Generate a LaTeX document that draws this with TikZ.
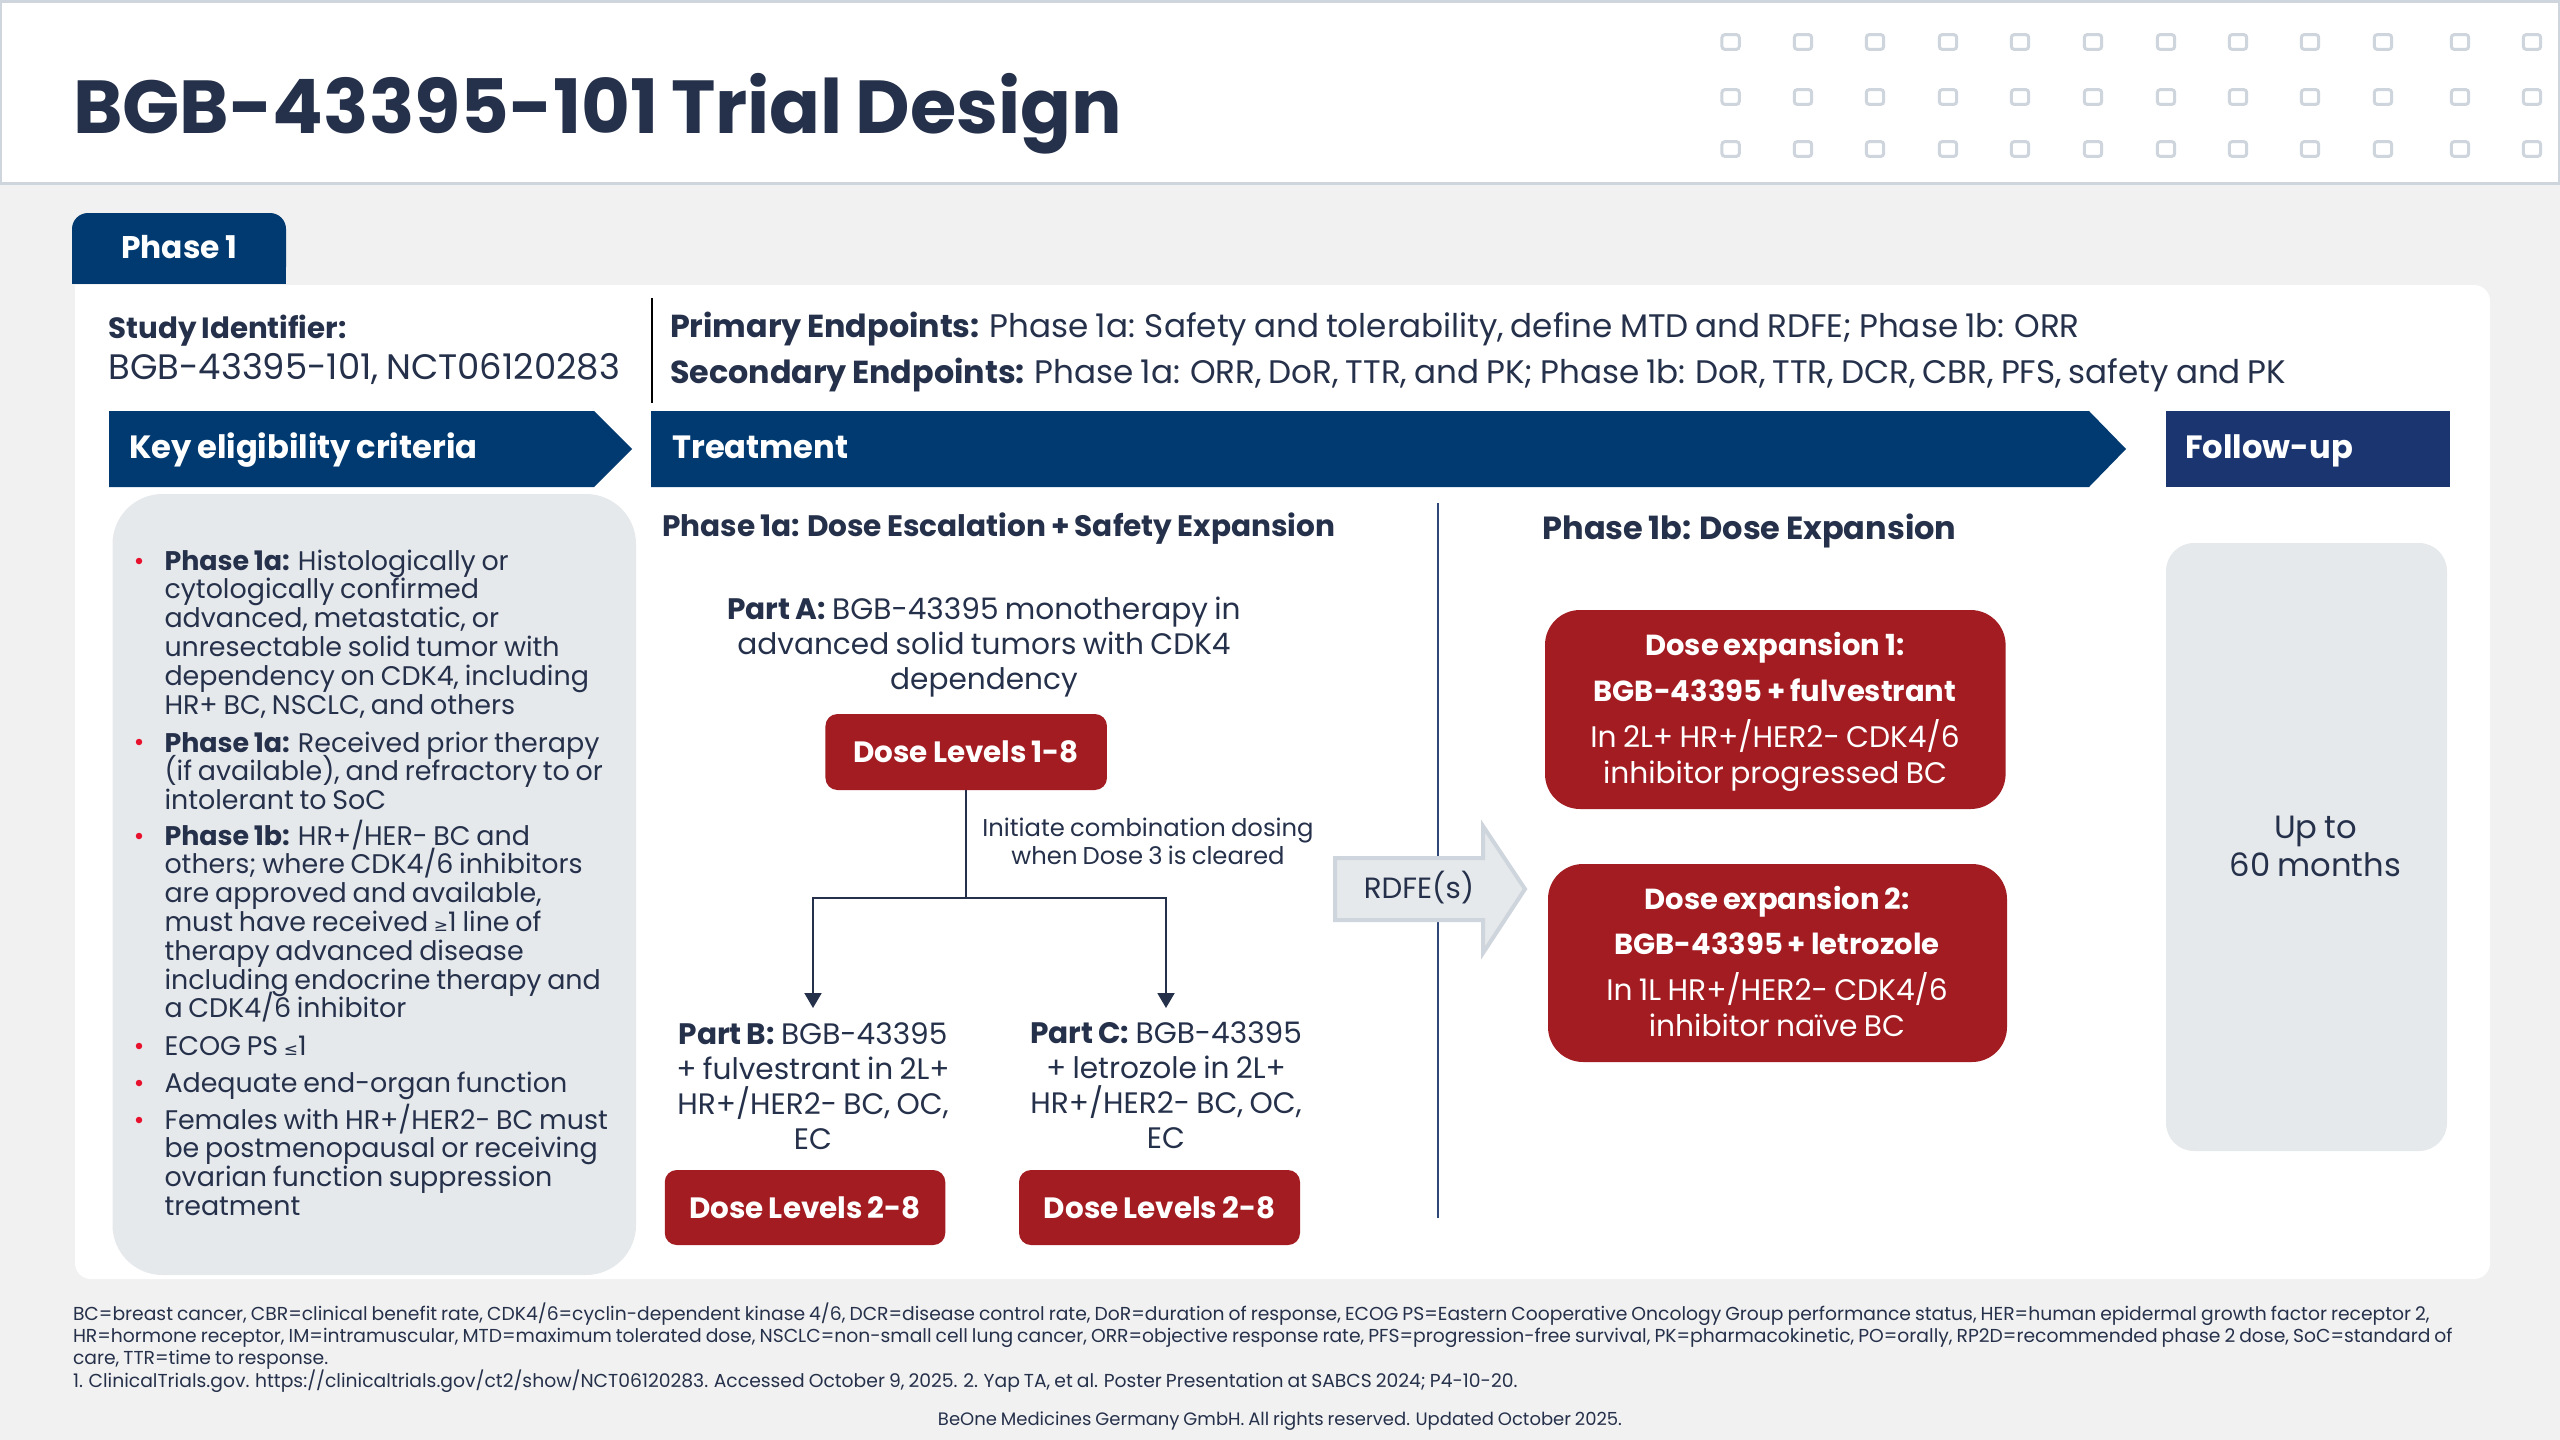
\documentclass[tikz,border=0pt]{standalone}
\usepackage{fontspec}
\usetikzlibrary{arrows.meta}
\setmainfont{Poppins}[WordSpace=0.8]
\newfontfamily\djv{DejaVu Sans}
\definecolor{ink}{HTML}{25304A}
\definecolor{navy}{HTML}{003A70}
\definecolor{fnavy}{HTML}{1A3570}
\definecolor{brick}{HTML}{A21C22}
\definecolor{paper}{HTML}{F1F1F1}
\definecolor{pale}{HTML}{E6E9EC}
\definecolor{edge}{HTML}{CFD5DC}
\definecolor{sep}{HTML}{2D4778}
\definecolor{dotred}{HTML}{E8112D}
\newcommand\st[1]{\rule{0pt}{#1pt}}
\newcommand\fs[2]{\fontsize{#1}{#2}\selectfont\lineskiplimit=-100pt\relax}
\tikzset{
  txt/.style={inner sep=0pt,outer sep=0pt,text=ink},
  lbl/.style={txt,anchor=base west},
  ctr/.style={txt,anchor=base},
  block/.style={txt,anchor=north,align=center},
  item/.style={txt,anchor=north west,align=left,font=\fs{26.9}{28.8}},
  bul/.style={circle,fill=dotred,minimum size=6.5pt,inner sep=0pt},
  bartxt/.style={inner sep=0pt,anchor=base west,text=white,font=\bfseries\fs{32.2}{36}},
  redbox/.style={fill=brick,rounded corners=12pt,inner sep=0pt,text=white,font=\bfseries\fs{29.4}{34}},
  conn/.style={draw=ink,line width=2pt},
  deco/.style={draw=edge,fill=white,line width=3pt,rounded corners=3pt},
}
\begin{document}
\begin{tikzpicture}[x=1pt,y=-1pt]
\useasboundingbox (0,0) rectangle (2560,1440);
\fill[paper] (0,0) rectangle (2560,1440);
% header
\fill[edge] (0,0) rectangle (2560,185);
\fill[white] (2,2.5) rectangle (2558,181.5);
\foreach \px in {1730.6,1803,1875,1948,2020,2093,2166,2238,2310,2383,2460,2532}
  \foreach \py in {42,97,149}
    \draw[deco] (\px-8.7,\py-7.4) rectangle (\px+8.7,\py+7.4);
\node[lbl,font=\bfseries\fs{75.1}{80}] (title) at (73,133) {BGB-43395-101 Trial Design};
% tab + card
\fill[white,rounded corners=16pt] (75,285) -- (2490,285) -- (2490,1279) -- (75,1279) -- cycle;
\fill[white] (75,285) rectangle (120,340);
\fill[navy,rounded corners=16pt] (72,283) -- (72,213) -- (286,213) -- (286,283) [sharp corners] -- cycle;
\fill[navy] (72,260) rectangle (286,284);
\node[ctr,text=white,font=\bfseries\fs{31.3}{36}] (phase) at (179,258) {Phase 1};
% study
\node[lbl,font=\bfseries\fs{29.3}{34}] (sid) at (108.5,338) {Study Identifier:};
\node[lbl,font=\fs{35.4}{40}] (sidv) at (108.5,379) {BGB-43395-101, NCT06120283};
\draw[black,line width=2pt] (652,298) -- (652,403);
\node[lbl,font=\fs{32.6}{38}] (pe) at (670,337) {{\bfseries\fs{31.8}{38}Primary Endpoints:} Phase 1a: Safety and tolerability, define MTD and RDFE; Phase 1b: ORR};
\node[lbl,font=\fs{32.6}{38}] (se) at (670,383) {{\bfseries\fs{31.8}{38}Secondary Endpoints:} Phase 1a: ORR, DoR, TTR, and PK; Phase 1b: DoR, TTR, DCR, CBR, PFS, safety and PK};
% bars
\fill[navy] (109,411) -- (594,411) -- (632,449) -- (594,487) -- (109,487) -- cycle;
\fill[navy] (651,411) -- (2089,411) -- (2126,449) -- (2089,487) -- (651,487) -- cycle;
\fill[fnavy] (2166,411) rectangle (2450,487);
\node[bartxt] (keyc) at (129,458) {Key eligibility criteria};
\node[bartxt] (treat) at (672,458) {Treatment};
\node[bartxt] (follow) at (2185,458) {Follow-up};
% eligibility
\fill[pale,rounded corners=50pt] (112.5,494) rectangle (636,1275);
\node[bul] (b1) at (139,561) {};
\node[bul] (b2) at (139,742) {};
\node[bul] (b3) at (139,836) {};
\node[bul] (b4) at (139,1046) {};
\node[bul] (b5) at (139,1083) {};
\node[bul] (b6) at (139,1120) {};
\node[item] (i1) at (164.5,540) {\st{30}\textbf{Phase 1a:} Histologically or\\cytologically confirmed\\advanced, metastatic, or\\unresectable solid tumor with\\dependency on CDK4, including\\HR+ BC, NSCLC, and others};
\node[item] (i2) at (164.5,722) {\st{30}\textbf{Phase 1a:} Received prior therapy\\(if available), and refractory to or\\intolerant to SoC};
\node[item] (i3) at (164.5,815) {\st{30}\textbf{Phase 1b:} HR+/HER- BC and\\others; where CDK4/6 inhibitors\\are approved and available,\\must have received {\djv\fs{17}{20}≥}1 line of\\therapy advanced disease\\including endocrine therapy and\\a CDK4/6 inhibitor};
\node[item] (i4) at (164.5,1025.5) {\st{30}ECOG PS {\djv\fs{17}{20}≤}1};
\node[item] (i5) at (164.5,1062) {\st{30}Adequate end-organ function};
\node[item] (i6) at (164.5,1099) {\st{30}Females with HR+/HER2- BC must\\be postmenopausal or receiving\\ovarian function suppression\\treatment};
% treatment
\node[lbl,font=\bfseries\fs{29.6}{34}] (ph1a) at (662,536) {Phase 1a: Dose Escalation + Safety Expansion};
\draw[sep,line width=2pt] (1438,503) -- (1438,1218);
\node[block,font=\fs{29.6}{35}] (parta) at (984,583) {\st{36}\textbf{Part A:} BGB-43395 monotherapy in\\advanced solid tumors with CDK4\\dependency};
\node[redbox,minimum width=281.5pt,minimum height=76pt] (d18) at (966.2,752) {Dose Levels 1-8};
\node[block,font=\fs{24.3}{28}] (lab) at (1148,806) {\st{30}Initiate combination dosing\\when Dose 3 is cleared};
\node[block,font=\fs{29.6}{35}] (partb) at (813,1008) {\st{36}\textbf{Part B:} BGB-43395\\+ fulvestrant in 2L+\\HR+/HER2- BC, OC,\\EC};
\node[block,font=\fs{29.6}{35}] (partc) at (1166,1008) {\st{35}\textbf{Part C:} BGB-43395\\+ letrozole in 2L+\\HR+/HER2- BC, OC,\\EC};
\node[redbox,minimum width=280.5pt,minimum height=75pt] (d2b) at (805,1207.5) {Dose Levels 2-8};
\node[redbox,minimum width=281pt,minimum height=75pt] (d2c) at (1159.5,1207.5) {Dose Levels 2-8};
\coordinate (junc) at (d18.south |- 0,898);
\draw[conn] (d18.south) -- (junc);
\draw[conn,-{Triangle[length=15pt,width=17pt]}] (junc) -- (partb.north |- junc) -- (partb.north);
\draw[conn,-{Triangle[length=15pt,width=17pt]}] (junc) -- (partc.north |- junc) -- (partc.north);
% rdfe arrow
\draw[fill=pale,draw=edge,line width=4pt,miter limit=10] (1335,858) -- (1483,858) -- (1483,826) -- (1525,889) -- (1483,953) -- (1483,920) -- (1335,920) -- cycle;
\node[ctr,font=\fs{29.3}{35}] (rdfe) at (1419,898) {RDFE(s)};
% phase 1b
\node[lbl,font=\bfseries\fs{32}{34}] (ph1b) at (1542.6,539) {Phase 1b: Dose Expansion};
\node[fill=brick,rounded corners=35pt,minimum width=460.6pt,minimum height=199pt,inner sep=0pt] (e1) at (1775.3,709.5) {};
\node[fill=brick,rounded corners=35pt,minimum width=459pt,minimum height=198pt,inner sep=0pt] (e2) at (1777.5,963) {};
\node[ctr,text=white,font=\bfseries\fs{29}{34}] (e1a) at (1775,655.5) {Dose expansion 1:};
\node[ctr,text=white,font=\bfseries\fs{29}{34}] (e1b) at (1775,701) {BGB-43395 + fulvestrant};
\node[block,text=white,font=\fs{29.7}{36}] (e1c) at (1775,711) {\st{36}In 2L+ HR+/HER2- CDK4/6\\inhibitor progressed BC};
\node[ctr,text=white,font=\bfseries\fs{29}{34}] (e2a) at (1777,909) {Dose expansion 2:};
\node[ctr,text=white,font=\bfseries\fs{29}{34}] (e2b) at (1777,954.5) {BGB-43395 + letrozole};
\node[block,text=white,font=\fs{29.7}{36}] (e2c) at (1777,964) {\st{36}In 1L HR+/HER2- CDK4/6\\inhibitor naïve BC};
% follow-up
\fill[pale,rounded corners=28pt] (2166,543) rectangle (2447,1151);
\node[block,font=\fs{32.2}{38.5}] (upto) at (2315.5,802) {\st{36}Up to\\60 months};
% footer
\node[txt,anchor=north west,align=left,font=\fs{18.75}{22.4}] (foot) at (73,1300) {\st{20}BC=breast cancer, CBR=clinical benefit rate, CDK4/6=cyclin-dependent kinase 4/6, DCR=disease control rate, DoR=duration of response, ECOG PS=Eastern Cooperative Oncology Group performance status, HER=human epidermal growth factor receptor 2,\\HR=hormone receptor, IM=intramuscular, MTD=maximum tolerated dose, NSCLC=non-small cell lung cancer, ORR=objective response rate, PFS=progression-free survival, PK=pharmacokinetic, PO=orally, RP2D=recommended phase 2 dose, SoC=standard of\\care, TTR=time to response.\\1. ClinicalTrials.gov. https://clinicaltrials.gov/ct2/show/NCT06120283. Accessed October 9, 2025. 2. Yap TA, et al. Poster Presentation at SABCS 2024; P4-10-20.};
\node[ctr,font=\fs{18}{22}] (copy) at (1280,1425) {BeOne Medicines Germany GmbH. All rights reserved. Updated October 2025.};
\end{tikzpicture}
\end{document}
